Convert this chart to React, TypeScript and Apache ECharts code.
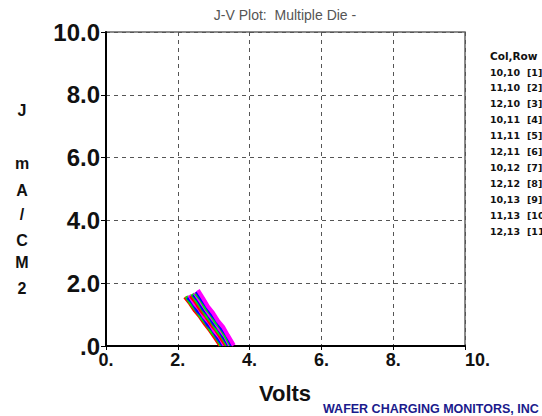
import React, { useEffect, useRef } from "react";
import * as echarts from "echarts";

const title = "J-V Plot:  Multiple Die -";
const xName = "Volts";
const yNameLetters = ["J", "m", "A", "/", "C", "M", "2"];
const yNameY = [110, 163, 190, 214, 240, 262, 288];
const footer = "WAFER CHARGING MONITORS, INC";
const legendHeader = "Col,Row";
const dieLabels = ["10,10", "11,10", "12,10", "10,11", "11,11", "12,11", "10,12", "12,12", "10,13", "11,13", "12,13"];
const dieColors = ["#ff0000", "#00ee00", "#0000ff", "#ff00ff", "#ff0000", "#00ee00", "#0000ff", "#ff00ff", "#00ee00", "#0000ff", "#ff00ff"];

const die1 = [[2.20, 1.56], [2.34, 1.36], [2.48, 1.12], [2.62, 0.93], [2.76, 0.70], [2.90, 0.49], [3.04, 0.26], [3.18, 0.02]];
const die2 = [[2.24, 1.58], [2.38, 1.34], [2.52, 1.15], [2.66, 0.91], [2.80, 0.72], [2.94, 0.47], [3.08, 0.28], [3.22, 0.02]];
const die3 = [[2.28, 1.55], [2.42, 1.38], [2.56, 1.11], [2.70, 0.95], [2.84, 0.68], [2.98, 0.51], [3.12, 0.25], [3.26, 0.03]];
const die4 = [[2.32, 1.62], [2.46, 1.36], [2.60, 1.18], [2.74, 0.92], [2.88, 0.74], [3.02, 0.48], [3.16, 0.30], [3.30, 0.02]];
const die5 = [[2.36, 1.60], [2.50, 1.40], [2.64, 1.14], [2.78, 0.96], [2.92, 0.71], [3.06, 0.52], [3.20, 0.27], [3.34, 0.03]];
const die6 = [[2.40, 1.66], [2.54, 1.42], [2.68, 1.20], [2.82, 0.94], [2.96, 0.76], [3.10, 0.50], [3.24, 0.31], [3.38, 0.02]];
const die7 = [[2.44, 1.64], [2.58, 1.45], [2.72, 1.17], [2.86, 0.99], [3.00, 0.73], [3.14, 0.55], [3.28, 0.28], [3.42, 0.03]];
const die8 = [[2.47, 1.70], [2.61, 1.46], [2.75, 1.23], [2.89, 0.98], [3.03, 0.79], [3.17, 0.53], [3.31, 0.33], [3.45, 0.02]];
const die9 = [[2.50, 1.68], [2.64, 1.50], [2.78, 1.21], [2.92, 1.03], [3.06, 0.76], [3.20, 0.58], [3.34, 0.30], [3.48, 0.03]];
const die10 = [[2.53, 1.74], [2.67, 1.49], [2.81, 1.27], [2.95, 1.01], [3.09, 0.82], [3.23, 0.56], [3.37, 0.36], [3.51, 0.02]];
const die11 = [[2.56, 1.78], [2.70, 1.53], [2.84, 1.26], [2.98, 1.06], [3.12, 0.80], [3.26, 0.61], [3.40, 0.33], [3.56, 0.02]];
const dieData = [die1, die2, die3, die4, die5, die6, die7, die8, die9, die10, die11];

export default function App() {
  const ref = useRef<HTMLDivElement>(null);
  useEffect(() => {
    if (!ref.current) return;
    const chart = echarts.init(ref.current, null, { renderer: "svg" });
    const graphics: any[] = [];
    graphics.push({
      type: "text", x: 285, y: 15,
      style: { text: title, fill: "#555", font: "14px 'Liberation Sans', Arial, sans-serif", align: "center", verticalAlign: "middle" },
    });
    yNameLetters.forEach((ch, i) => {
      graphics.push({
        type: "text", x: 22, y: yNameY[i],
        style: { text: ch, fill: "#111", font: "bold 16px 'Liberation Sans', Arial, sans-serif", align: "center", verticalAlign: "middle" },
      });
    });
    graphics.push({
      type: "text", x: 285, y: 393,
      style: { text: xName, fill: "#111", font: "bold 22px 'Liberation Sans', Arial, sans-serif", align: "center", verticalAlign: "middle" },
    });
    graphics.push({
      type: "text", x: 323, y: 409,
      style: { text: footer, fill: "#1a1a8c", font: "bold 12.5px 'Liberation Sans', Arial, sans-serif", align: "left", verticalAlign: "middle" },
    });
    graphics.push({
      type: "text", x: 490, y: 56,
      style: { text: legendHeader, fill: "#111", font: "bold 10.5px 'DejaVu Sans', sans-serif", align: "left", verticalAlign: "middle" },
    });
    dieLabels.forEach((lab, i) => {
      graphics.push({
        type: "text", x: 490, y: 72 + i * 15.9,
        style: { text: lab, fill: "#111", font: "bold 9.5px 'DejaVu Sans', sans-serif", align: "left", verticalAlign: "middle" },
      });
      graphics.push({
        type: "text", x: 527, y: 72 + i * 15.9,
        style: { text: "[" + (i + 1) + "]", fill: "#111", font: "bold 9.5px 'DejaVu Sans', sans-serif", align: "left", verticalAlign: "middle" },
      });
    });
    chart.setOption({
      animation: false,
      backgroundColor: "#ffffff",
      grid: { left: 106, right: 77, top: 32, bottom: 70, show: true, borderColor: "#666", borderWidth: 1.5, backgroundColor: "transparent" },
      xAxis: {
        type: "value", min: 0, max: 10, interval: 2,
        axisLine: { show: true, onZero: false, lineStyle: { color: "#000", width: 2 } },
        axisTick: { show: true, length: 4, lineStyle: { color: "#000" } },
        splitLine: { show: true, lineStyle: { color: "#555", type: [4, 4], width: 1 } },
        axisLabel: {
          formatter: (v: number) => v + ".", color: "#111", margin: 5,
          fontSize: 18, fontWeight: "bold", fontFamily: "'Liberation Sans', Arial, sans-serif",
          alignMaxLabel: "left",
        },
      },
      yAxis: {
        type: "value", min: 0, max: 10, interval: 2,
        axisLine: { show: true, onZero: false, lineStyle: { color: "#000", width: 2 } },
        axisTick: { show: true, length: 5, lineStyle: { color: "#000" } },
        splitLine: { show: true, lineStyle: { color: "#555", type: [4, 4], width: 1 } },
        axisLabel: {
          formatter: (v: number) => (v === 0 ? ".0" : v.toFixed(1)), color: "#111", margin: 6,
          fontSize: 24, fontWeight: "bold", fontFamily: "'Liberation Sans', Arial, sans-serif",
        },
      },
      series: dieData.map((d, i) => ({
        type: "line", name: dieLabels[i], data: d, showSymbol: false,
        lineStyle: { color: dieColors[i], width: 4 }, itemStyle: { color: dieColors[i] },
      })),
      graphic: graphics,
    });
    return () => chart.dispose();
  }, []);
  return <div ref={ref} style={{ width: 542, height: 416, position: "absolute", left: 0, top: 0 }} />;
}
